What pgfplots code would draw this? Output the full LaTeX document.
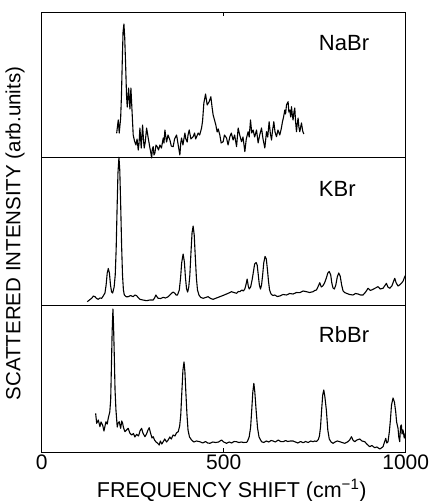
\documentclass[border=0pt]{standalone}
\usepackage{fontspec}
\setmainfont{Liberation Sans}
\usepackage{pgfplots}
\pgfplotsset{compat=1.18}
\usepackage{pgfplotstable}

\pgfplotstableread{
f y
205.9 23.7
210.3 37
213.0 24
216.9 39
219.0 60
221.3 95
223.5 125
225.9 133
228.0 120
230.6 92
233.0 62
235.0 50
238.8 69
241.0 55
242.4 48
245.1 69
248.7 42
251.4 22
255.0 16
258.9 12
262.0 18
265.2 7
267.5 14
269.8 29
271.5 20
273.4 9
275.5 22
277.2 32
279.5 18
281.6 9
284.5 15
288.2 29
290.5 24
292.6 19
295.0 14
297.3 9
300.0 4
302.0 -1
304.0 8
306.3 10.3
308.5 2
311.0 4
314.0 12
317.3 10.3
321.0 7
324.7 12
329.0 9
333.8 19
336.0 14
338.5 27
341.0 20
343.1 15
347.0 22
352.2 17
356.0 11
361.2 10.3
365.0 18
370.6 22
375.0 12
379.6 2
382.0 14
384.3 19
388.0 12
393.4 24
396.0 18
399.7 15
402.0 22
405.2 27
410.0 18
416.1 20.3
420.0 24
423.0 18
429.9 24
434.0 22
439.2 29
442.0 36
445.5 54
450.2 63
454.6 52
460.1 55.3
464.7 60.3
468.0 50
471.0 42
474.0 38
478.4 32
482.0 25
485.0 28
489.4 22
493.0 14
498.5 15.3
502.0 22
507.8 19
512.0 12
516.9 20.3
521.0 24
525.9 17
530.0 22
535.3 10.3
539.7 29
544.0 22
549.0 15.3
553.0 20
558.1 5.3
562.0 18
567.1 25.3
570.0 20
573.7 37
577.0 24
580.8 27
585.0 20
590.2 27
594.6 14
599.0 22
603.9 29
608.0 18
613.0 9
617.6 25.3
621.0 20
624.8 35.3
628.0 24
631.4 17
634.0 26
637.7 35.3
641.0 25
645.1 20.3
649.0 27
654.1 22
658.0 28
661.5 35.3
664.5 40
667.9 47
670.0 43
672.5 52
676.9 55.3
679.0 45
681.6 47
684.0 40
686.3 50.3
688.5 42
690.6 37
693.0 45
695.3 49
697.5 35
700.0 25.3
702.0 33
704.4 39
706.5 30
709.0 25.3
711.5 30
713.7 34
717.0 26
720.0 23
}\nabr

\pgfplotstableread{
f y
125.2 3.3
131.0 5
137.3 6.7
142.0 9
146.3 8.3
151.0 6.5
155.4 5.7
160.0 7
164.7 6.7
169.0 9
173.8 12
177.0 20
180.0 32
183.0 36.5
186.0 32
189.0 20
192.0 13
195.0 12
199.0 18
202.0 30
204.5 55
207.0 95
209.5 132
212.2 147.7
214.5 135
217.0 100
219.5 60
222.0 30
224.5 15
227.0 10
232.0 8.3
237.7 8.3
244.0 9.5
251.4 8.3
256.0 10
260.8 9.3
265.0 7.5
269.8 5.7
278.0 5
288.2 4.3
297.0 5
306.3 5
310.0 7
313.8 10
317.0 8
320.1 6.7
327.0 6.5
333.8 7.7
340.0 7
347.5 8.3
352.0 10
356.9 11.7
361.0 13
365.9 11.7
369.0 10
373.0 10
378.0 15
381.5 27
384.5 42
388.5 51
392.0 43
395.0 27
398.0 16
401.0 13
404.0 18
407.0 30
410.0 52
413.0 72
416.0 79
419.0 70
422.0 48
425.0 27
428.0 15
432.0 10
437.0 7.5
443.6 6.7
450.0 7.5
457.3 8.3
464.0 6.5
471.0 5.7
480.0 7
489.4 8.3
498.0 9.5
507.8 11
514.0 12
521.6 13.3
528.0 12.5
535.3 11.7
540.0 13.5
544.3 13.3
550.0 15
554.0 14
558.1 16
561.0 20
564.4 26
567.5 19
570.0 16
574.0 18
578.0 25
582.0 34
585.0 41
589.0 42.5
592.0 40
595.0 30
598.0 20
601.0 16
604.0 20
607.0 30
610.0 42
613.5 48.5
617.0 46
620.0 36
623.0 24
626.0 15
630.0 11
635.0 9.5
640.4 10
647.0 8.5
654.1 9
663.0 10.5
672.5 10
681.0 11.5
690.6 11
700.0 12.5
709.0 12.3
718.0 14
727.4 13.3
736.0 12.5
745.5 13.3
750.0 14.5
754.9 15
760.0 19
764.0 22.3
768.0 18
772.0 19
777.0 22
782.0 27
786.0 32
790.0 33.5
794.0 30
797.0 22
800.4 17
804.0 16
808.0 20
812.0 28
816.0 32
820.0 29
824.0 20
828.0 14
832.0 12.5
837.2 11.7
846.0 10.5
855.4 10
862.0 11.5
869.1 11
876.0 10
882.8 10
890.0 13
896.5 16.7
903.0 14.5
910.2 15.7
917.0 17
924.0 18.3
930.0 16
937.7 16.7
942.0 19
947.0 21.7
951.0 18
956.1 16.7
962.0 19
966.0 23
969.8 26.7
974.0 22
978.9 19
983.0 20
988.2 21.7
993.0 24
996.0 27
1000 30
}\kbr

\pgfplotstableread{
f y
148.2 38.7
151.0 28.7
155.4 32
160.0 25.3
163.0 30
167.4 27
171.0 21
176.5 30.3
180.0 28
182.8 33.7
187.0 40
189.5 52
191.5 85
193.5 120
195.7 143
197.5 125
199.5 95
201.5 62
204.0 42
207.5 25
210.0 29
213.0 30.3
216.9 23.7
220.0 31
222.3 28.7
225.0 24
228.7 20.3
233.0 22
237.7 23.7
242.0 19
247.1 17
252.0 18.5
256.0 15
260.8 17.7
266.0 16
270.0 21
274.5 23.7
278.0 19
283.6 15.3
288.0 18
292.0 22
295.4 24.3
299.0 19
303.0 14
306.3 15.3
310.0 12
314.0 10
318.0 9
322.8 7
326.0 11
330.0 8
333.8 10.3
338.0 13
343.0 10
347.5 12
352.0 15
356.0 13
361.2 17
366.0 16
370.0 19
375.0 20.3
379.0 26
382.0 37
385.0 60
388.0 82
391.0 90
393.5 80
396.0 60
399.0 38
402.0 22
406.0 15
411.8 12
418.0 10
425.0 11
434.5 10.3
442.0 9
450.0 10.5
456.0 9
462.0 8.7
470.0 10
478.0 9.5
486.0 10
494.1 12
500.0 10
507.8 8.7
515.0 10
522.0 9
528.0 10.5
535.3 10.3
542.0 9.5
548.0 10
555.0 9.5
562.7 9.7
565.0 10.5
570.0 15
574.0 25
577.0 42
580.0 60
582.8 68.7
585.5 60
589.0 42
593.0 24
597.0 15
603.9 10.3
610.0 9.5
617.0 11
624.0 10
630.0 11.5
635.7 11
642.0 10
650.0 12
656.0 10.5
663.2 10.3
670.0 11.5
676.0 10.5
683.0 11
690.6 11
697.0 10
704.0 9
711.0 10.5
718.1 9.3
725.0 10.5
732.0 9.5
739.0 11
745.5 10.3
750.0 11
755.0 10.5
760.0 12.5
763.0 16
766.0 25
769.0 42
772.0 57
775.0 62
778.0 55
782.0 42
786.0 22
790.0 13
795.0 10
800.4 8.7
806.0 10
812.0 11
818.8 10.3
825.0 9.5
832.6 8.7
840.0 10
846.0 12
851.0 15.3
855.0 12
860.0 10.3
866.0 12
873.7 13
880.0 11
887.5 10.3
893.0 8
901.2 5.3
907.0 6.5
914.9 4.3
921.0 5
928.6 3
933.0 4
937.7 5.3
941.0 9
945.1 13.7
948.0 9
951.4 10.3
955.0 20
958.0 32
961.0 47
965.2 54
969.0 50
972.6 40
975.0 30
978.9 23.7
981.0 15
983.5 10.3
986.0 26
988.2 27
990.0 18
992.6 22
996.0 14
1000 20.3
}\rbbr

\pgfplotsset{
  panel/.style={
    scale only axis, width=364pt,
    xmin=0, xmax=1000, ymin=0,
    ytick=\empty,
    axis line style={line width=0.8pt},
    tick style={line width=0.8pt, black},
    major tick length=4pt,
    tick align=inside,
    font=\fontsize{21}{25}\selectfont,
    /pgf/number format/assume math mode=true,
    /pgf/number format/set thousands separator={},
  },
  trace/.style={black, line width=1.1pt, no marks, line join=round},
}

\begin{document}
\begin{tikzpicture}
\useasboundingbox (-41.7pt,-49pt) rectangle (390.3pt,452pt);

% bottom: RbBr
\begin{axis}[panel, at={(0pt,0pt)}, anchor=south west, height=147pt, ymax=147,
  xtick={0,500,1000}, xtick pos=bottom,
  xticklabel style={yshift=1pt},
  xlabel={FREQUENCY SHIFT (cm\textsuperscript{−1})},
  xlabel style={at={(axis description cs:0.522,0)}, anchor=base, yshift=-45pt, font=\fontsize{21.5}{25}\selectfont},
]
\addplot[trace] table[x=f, y=y] {\rbbr};
\node[anchor=west] at (axis cs:752,117) {\fontsize{22}{26}\selectfont RbBr};
\end{axis}

% middle: KBr
\begin{axis}[panel, at={(0pt,147pt)}, anchor=south west, height=148pt, ymax=148,
  xtick=\empty,
  ylabel={SCATTERED INTENSITY (arb.units)},
  ylabel style={at={(axis description cs:-0.0733,0.483)}, anchor=center, font=\fontsize{20.5}{24}\selectfont},
]
\addplot[trace] table[x=f, y=y] {\kbr};
\node[anchor=west] at (axis cs:752,116) {\fontsize{22}{26}\selectfont KBr};
\end{axis}

% top: NaBr
\begin{axis}[panel, at={(0pt,295pt)}, anchor=south west, height=145pt, ymax=145,
  xtick={500}, xtick pos=top, xticklabels={},
  clip=false,
]
\addplot[trace] table[x=f, y=y] {\nabr};
\node[anchor=west] at (axis cs:752,114) {\fontsize{22}{26}\selectfont NaBr};
\end{axis}
\end{tikzpicture}
\end{document}
